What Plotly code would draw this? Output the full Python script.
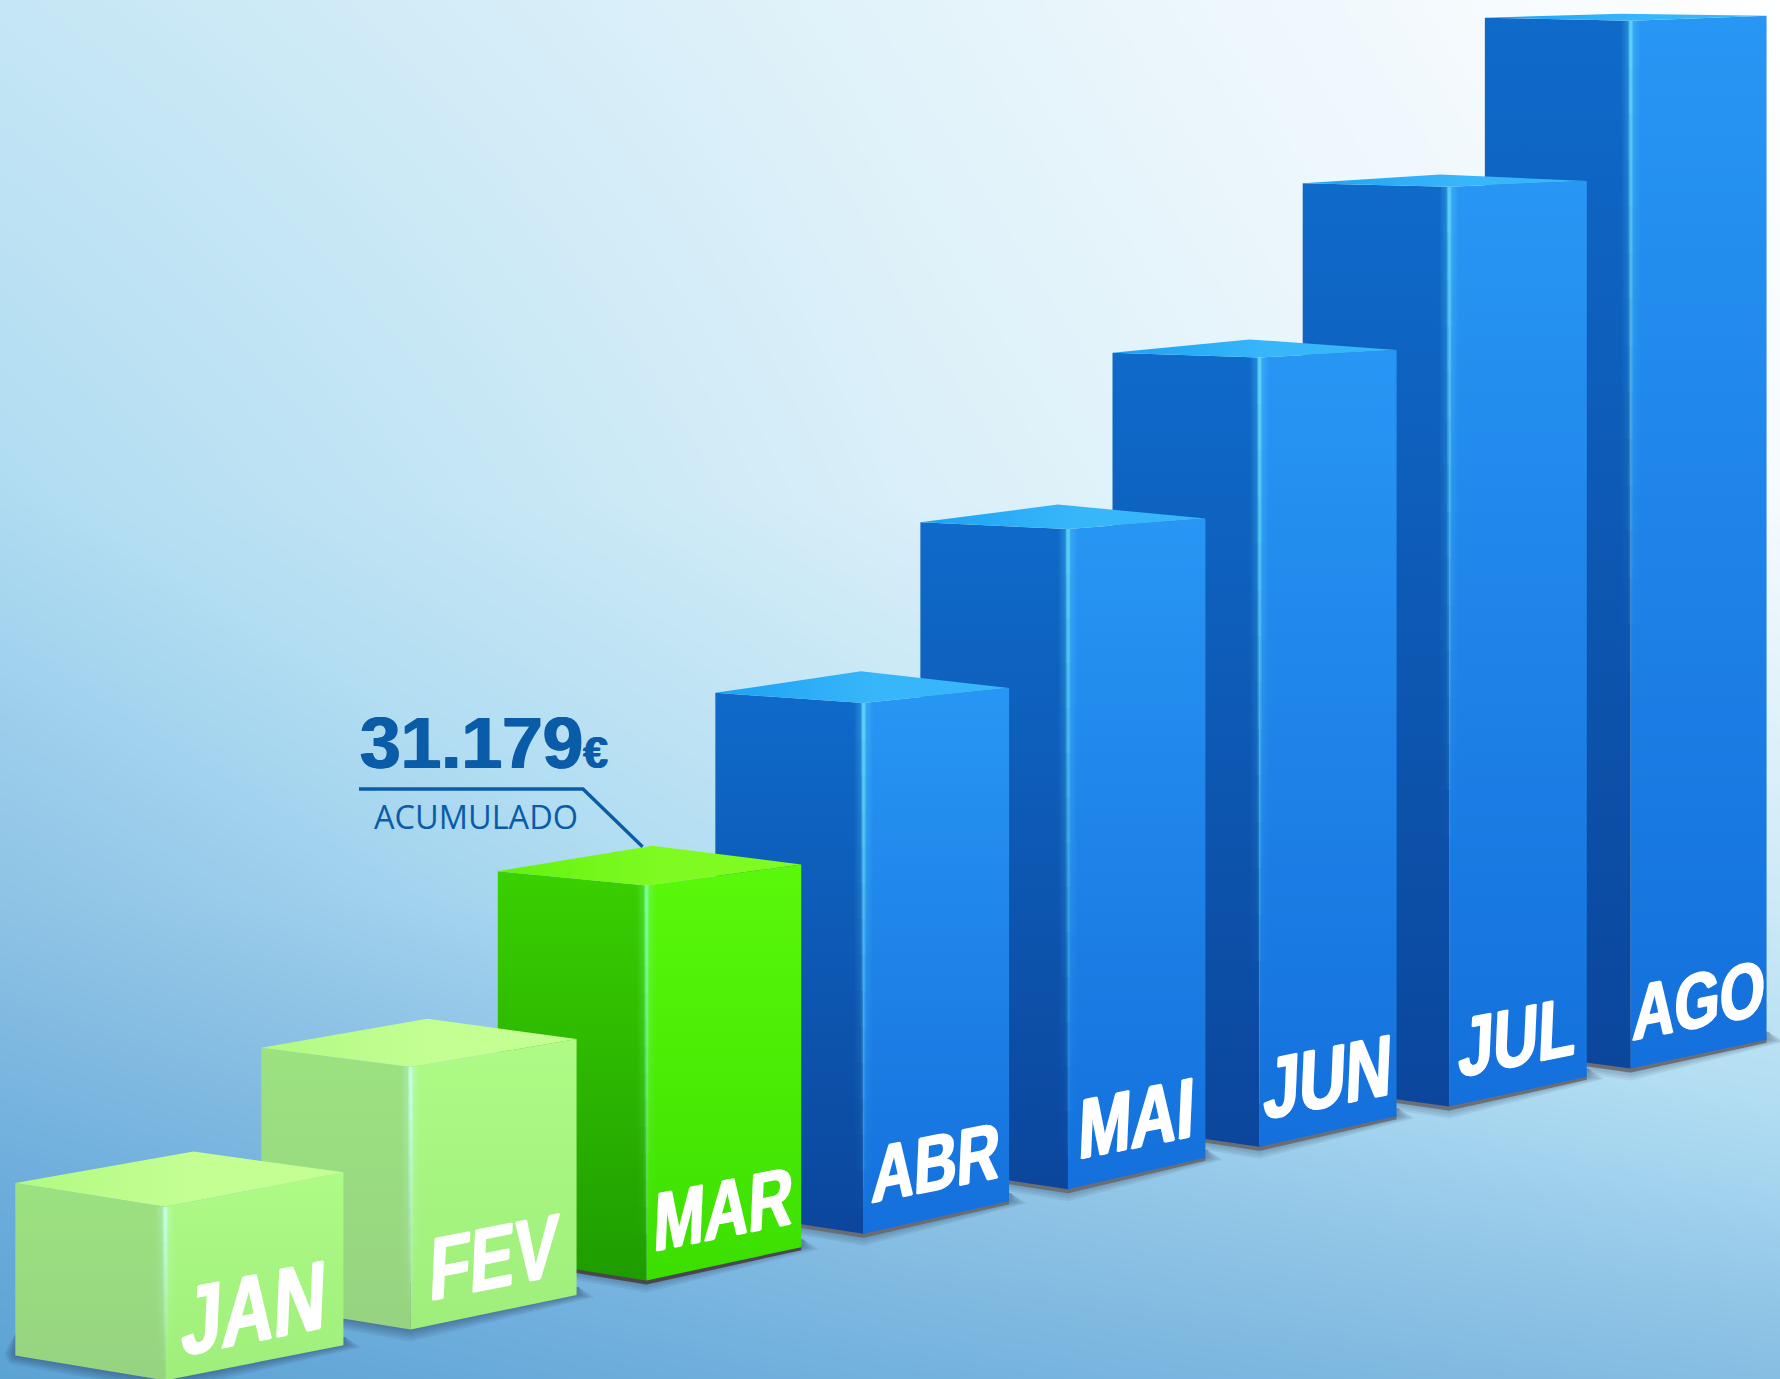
import json
import plotly.graph_objects as go

# ---- chart data (accumulated euros per month) ----
MONTHS = ["JAN", "FEV", "MAR", "ABR", "MAI", "JUN", "JUL", "AGO"]
ACCUMULATED = [13700, 20700, 31179, 41900, 52100, 62300, 72600, 82700]
CALLOUT_VALUE = "31.179"
CALLOUT_UNIT = "€"
CALLOUT_LABEL = "ACUMULADO"
PALETTE_KEY = ["past", "past", "current", "future", "future", "future", "future", "future"]

# ---- styles ----
W, H = 1780, 1379
K = 1780 / 1568
PX_PER_EURO = 348 / 31179
LABEL_SIZES = [72, 66, 61, 59, 63, 64, 62, 58]
CORNER_NUDGE = [0, -4, 0, 1, 2, 0, 2, 0]
RIGHT_NUDGE = [0, 0, -1, -2, -4, -1, 1, -1]
PALETTES = {
    "past": dict(lt="#9CE280", lb="#97D380", rt="#AEFB86", rb="#9FEE7B", t0="#B2F982", t1="#C4FF94", glow="200,255,240"),
    "current": dict(lt="#3AD000", lb="#1E9C00", rt="#5AF80A", rb="#3BDF00", t0="#62F20E", t1="#80FB22", glow="124,255,160"),
    "future": dict(lt="#0F6ACA", lb="#0B469C", rt="#2896F4", rb="#1470DC", t0="#1CA2F2", t1="#38B6FA", glow="92,214,248"),
}
INK = "#0A5CA9"

# backdrop: lightness sampled on a coarse grid, mapped through a blue-to-white ramp
BG_X = [0, 900, W]
BG_Y = [0, 500, 900, 1180, H]
BG_Z = [[197, 227, 255], [173, 217, 245], [142, 185, 205], [109, 142, 165], [91, 115, 134]]
BG_STOPS = [(91, "#5BA3D3"), (109, "#6DADDC"), (142, "#8EC3E5"), (161, "#A1D2EE"), (176, "#B2DDF2"),
            (197, "#C5E6F5"), (213, "#D5EDF8"), (227, "#E3F3FA"), (240, "#F0F8FD"), (250, "#FAFDFE"), (255, "#FFFFFF")]


# ---- perspective scale: category index -> position on the receding floor ----
def corner_x(i):
    return 145.5 + 212 * i - 6.4 * i * (i - 2) + 0.4429 * i * (i - 2) * (i - 5) + CORNER_NUDGE[i]


def left_width(i):
    return 132 - 0.5 * i


def right_width(i):
    return 157 - 11.7 * i + 0.93 * i * i + RIGHT_NUDGE[i]


def floor_y(i):
    return 1216 - 44 * i + 0.95 * i * (i - 2)


def box(i, value):
    c = corner_x(i)
    l, r = c - left_width(i), c + right_width(i)
    bc = floor_y(i)
    bl, br = bc - (22 - 0.7 * i), bc - (31 - 0.8 * i)
    ct = bc - value * PX_PER_EURO
    tl = ct - (2.6 + 1.63e-5 * ct * ct)
    tr = ct - (4.4 + 2.3e-5 * ct * ct)
    ay = ct - (5.5 + 0.03 * ct + 1.0e-5 * ct * ct)
    ax = l + r - c
    return {k: v * K for k, v in dict(l=l, c=c, r=r, bl=bl, bc=bc, br=br, ct=ct, tl=tl, tr=tr, ax=ax, ay=ay).items()}


fig = go.Figure()

# background
fig.add_trace(go.Heatmap(
    x=BG_X, y=BG_Y, z=BG_Z, zmin=91, zmax=255, zsmooth="best", showscale=False, hoverinfo="skip",
    colorscale=[[(v - 91) / (255 - 91), c] for v, c in BG_STOPS],
))


def poly(xs, ys, color=None, grad=None):
    kw = dict(x=xs, y=ys, mode="lines", line=dict(width=0), fill="toself", hoverinfo="skip", showlegend=False)
    if grad:
        kw["fillgradient"] = grad
    else:
        kw["fillcolor"] = color
    fig.add_trace(go.Scatter(**kw))


def vgrad(top, bottom, c0, c1):
    return dict(type="vertical", start=top, stop=bottom, colorscale=[[0, c0], [1, c1]])


def hgrad(left, right, stops):
    return dict(type="horizontal", start=left, stop=right, colorscale=stops)


# bars, back to front
for i in reversed(range(len(MONTHS))):
    b = box(i, ACCUMULATED[i])
    p = PALETTES[PALETTE_KEY[i]]
    # soft floor shadow
    for k in range(1, 6):
        poly([b["l"] + 2, b["l"] - 2.2 * k, b["l"] - 1.2 * k, b["c"], b["r"] + 3.5 * k, b["r"] + 2],
             [b["bl"] - 26, b["bl"] - 2, b["bl"] + 1.6 * k, b["bc"] + 2.4 * k, b["br"] + 0.4 * k, b["br"] - 8],
             color="rgba(30,40,60,0.08)")
    # hard contact edge
    edge = "rgba(70,60,60,0.85)" if PALETTE_KEY[i] == "current" else "rgba(105,105,110,0.9)"
    if PALETTE_KEY[i] != "past":
        poly([b["l"], b["c"], b["r"], b["r"], b["c"], b["l"]],
             [b["bl"] - 2, b["bc"] - 2, b["br"] - 2, b["br"] + 3, b["bc"] + 4, b["bl"] + 3], color=edge)
    # left face
    poly([b["l"], b["c"], b["c"], b["l"]], [b["tl"], b["ct"], b["bc"], b["bl"]],
         grad=vgrad(b["tl"], b["bc"], p["lt"], p["lb"]))
    # right face
    poly([b["c"], b["r"], b["r"], b["c"]], [b["ct"], b["tr"], b["br"], b["bc"]],
         grad=vgrad(b["tr"], b["bc"], p["rt"], p["rb"]))
    # top face
    poly([b["l"], b["ax"], b["r"], b["c"]], [b["tl"], b["ay"], b["tr"], b["ct"]],
         grad=hgrad(b["l"], b["r"], [[0, p["t0"]], [0.55, p["t1"]], [1, p["t1"]]]))
    # glint down the front edge, fading with depth
    height = b["bc"] - b["ct"]
    fade = min(height * 0.95, 650)
    n = 14
    for s in range(n):
        y0, y1 = round(b["ct"] + fade * s / n), round(b["ct"] + fade * (s + 1) / n)
        a = 0.95 * (1 - (s + 0.5) / n)
        x0, x1 = b["c"] - 10, b["c"] + 10
        poly([x0, x1, x1, x0], [y0, y0, y1, y1],
             grad=hgrad(x0, x1, [[0, f"rgba({p['glow']},0)"], [0.36, f"rgba({p['glow']},{a * 0.3:.3f})"],
                                 [0.45, f"rgba({p['glow']},{a:.3f})"], [0.55, f"rgba({p['glow']},{a:.3f})"],
                                 [0.64, f"rgba({p['glow']},{a * 0.3:.3f})"], [1, f"rgba({p['glow']},0)"]]))

# callout leader
mar = box(MONTHS.index("MAR"), ACCUMULATED[MONTHS.index("MAR")])
fig.add_trace(go.Scatter(
    x=[359, 583, mar["ax"] - 10], y=[789, 789, mar["ay"] + 1], mode="lines",
    line=dict(color=INK, width=3.4), hoverinfo="skip", showlegend=False,
))

annotations = []
THICK = "1.3px 0 0 white,-1.3px 0 0 white,0 0.6px 0 white,0 -0.6px 0 white"
for i, m in enumerate(MONTHS):
    b = box(i, ACCUMULATED[i])
    annotations.append(dict(
        x=(b["c"] + b["r"]) / 2, y=(b["bc"] + b["br"]) / 2 - 55, xref="x", yref="y", text=m, showarrow=False,
        xanchor="center", yanchor="middle",
        font=dict(family="Liberation Sans", size=LABEL_SIZES[i], color="white", weight="bold", shadow=THICK),
    ))
THICK_INK = f"0.9px 0 0 {INK},-0.9px 0 0 {INK}"
annotations.append(dict(
    x=358, y=785, xref="x", yref="y", xanchor="left", yanchor="bottom", showarrow=False,
    text=f"{CALLOUT_VALUE}<span style='font-size:44px'>{CALLOUT_UNIT}</span>",
    font=dict(family="Liberation Sans", size=73, color=INK, weight="bold", shadow=THICK_INK),
))
annotations.append(dict(
    x=476, y=816, xref="x", yref="y", xanchor="center", yanchor="middle", showarrow=False,
    text=CALLOUT_LABEL, font=dict(family="Open Sans", size=32.5, color=INK),
))

fig.update_layout(
    width=W, height=H, margin=dict(l=0, r=0, t=0, b=0), showlegend=False,
    paper_bgcolor="white", plot_bgcolor="white", annotations=annotations,
    xaxis=dict(range=[0, W], visible=False, fixedrange=True),
    yaxis=dict(range=[H, 0], visible=False, fixedrange=True),
)

# month labels are printed on the receding face: shear and stretch them in place
post = """
document.body.style.margin='0';document.body.style.overflow='hidden';
var n=%s;
for(var i=0;i<n;i++){
  var a=document.querySelector('g.annotation[data-index="'+i+'"] g.annotation-text-g');
  if(!a)continue;
  a.removeAttribute('transform');
  var bb=a.getBBox();var cx=bb.x+bb.width/2,cy=bb.y+bb.height/2;
  a.setAttribute('transform','translate('+cx+','+cy+') skewY(-11.3) skewX(-2.5) scale(1,1.35) translate('+(-cx)+','+(-cy)+')');
}
""" % json.dumps(len(MONTHS))
fig.write_html("out.html", config=dict(displayModeBar=False), post_script=post)
